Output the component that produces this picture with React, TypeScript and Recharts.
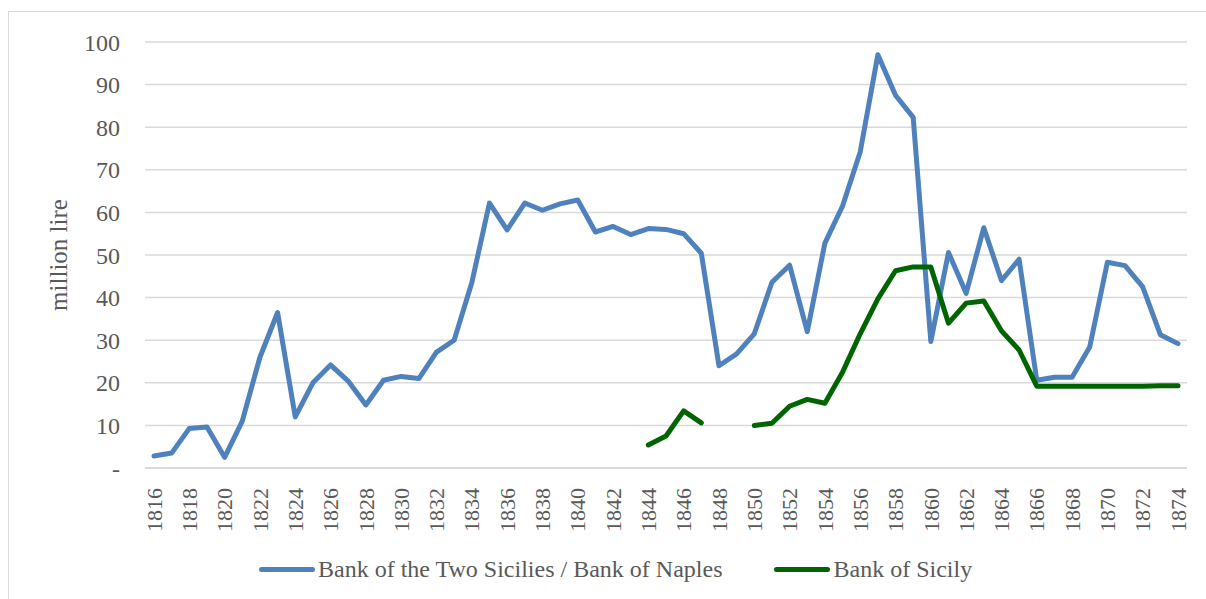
import { LineChart, Line, XAxis, YAxis, CartesianGrid } from "recharts"

const YEARS = Array.from({ length: 59 }, (_, i) => String(1816 + i))

const NAPLES = [
  2.8, 3.5, 9.3, 9.6, 2.5, 11, 26, 36.5, 12, 20,
  24.2, 20.4, 14.8, 20.6, 21.5, 21, 27.2, 30, 43.5, 62.2,
  55.9, 62.2, 60.5, 62, 62.9, 55.4, 56.7, 54.8, 56.2, 56,
  55, 50.4, 24, 26.8, 31.5, 43.6, 47.6, 32, 52.8, 61.5,
  74.2, 97, 87.5, 82.3, 29.7, 50.6, 41, 56.4, 44, 49,
  20.6, 21.3, 21.3, 28.4, 48.3, 47.5, 42.5, 31.3, 29.2,
]

const SICILY: (number | null)[] = [
  null, null, null, null, null, null, null, null, null, null,
  null, null, null, null, null, null, null, null, null, null,
  null, null, null, null, null, null, null, null, 5.4, 7.5,
  13.4, 10.6, null, null, 10, 10.5, 14.5, 16.1, 15.2, 22.5,
  31.5, 39.7, 46.3, 47.2, 47.2, 34, 38.7, 39.2, 32.2, 27.7,
  19.2, 19.2, 19.2, 19.2, 19.2, 19.2, 19.2, 19.3, 19.3,
]

const Y_TICKS = [0, 10, 20, 30, 40, 50, 60, 70, 80, 90, 100]

const NAPLES_NAME = "Bank of the Two Sicilies / Bank of Naples"
const SICILY_NAME = "Bank of Sicily"

const data = YEARS.map((year, i) => ({
  year,
  naples: NAPLES[i],
  sicily: SICILY[i],
}))

const FONT = "'Liberation Serif', 'Times New Roman', serif"
const TEXT = "#595959"
const BLUE = "#4F81BD"
const GREEN = "#006400"

function YearTick({ x, y, payload }: any) {
  return (
    <text
      transform={`rotate(-90, ${x}, ${y + 12})`}
      fill={TEXT}
      fontSize={22}
      fontFamily={FONT}
    >
      <tspan x={x} y={y + 12} textAnchor="end" dy="0.35em">
        {payload.value}
      </tspan>
    </text>
  )
}

function ChartLegend() {
  const items = [
    { name: NAPLES_NAME, color: BLUE, gap: 0 },
    { name: SICILY_NAME, color: GREEN, gap: 52 },
  ]
  return (
    <div
      style={{
        position: "absolute",
        left: 259,
        top: 556,
        display: "flex",
        fontFamily: FONT,
        fontSize: 24,
        color: TEXT,
        whiteSpace: "nowrap",
      }}
    >
      {items.map((it) => (
        <div key={it.name} style={{ display: "flex", alignItems: "center", marginLeft: it.gap }}>
          <div style={{ width: 56, height: 5, borderRadius: 3, background: it.color, marginRight: 3 }} />
          <span>{it.name}</span>
        </div>
      ))}
    </div>
  )
}

export default function App() {
  return (
    <div
      style={{
        position: "absolute",
        left: 0,
        top: 0,
        width: 1206,
        height: 599,
        overflow: "hidden",
        background: "#fff",
      }}
    >
      <div
        style={{
          position: "absolute",
          left: 8,
          top: 11,
          width: 1300,
          height: 700,
          border: "1px solid #D9D9D9",
        }}
      />
      <div style={{ position: "absolute", left: 0, top: 0 }}>
        <LineChart
          width={1206}
          height={599}
          data={data}
          margin={{ top: 42, right: 19, left: 20, bottom: 0 }}
        >
          <CartesianGrid vertical={false} stroke="#D9D9D9" strokeWidth={1.5} />
          <XAxis
            dataKey="year"
            interval={1}
            tickLine={false}
            axisLine={{ stroke: "#D9D9D9", strokeWidth: 1.5 }}
            tick={<YearTick />}
            padding={{ left: 9, right: 9 }}
            height={131}
          />
          <YAxis
            domain={[0, 100]}
            ticks={Y_TICKS}
            tickFormatter={(v: number) => (v === 0 ? "-" : String(v))}
            tickLine={false}
            axisLine={false}
            width={125}
            tick={{ fill: TEXT, fontSize: 24, fontFamily: FONT, dx: -17 }}
            label={{
              value: "million lire",
              angle: -90,
              position: "insideLeft",
              offset: 38,
              style: { fill: TEXT, fontSize: 25, fontFamily: FONT, textAnchor: "middle" },
            }}
          />
          <Line
            type="linear"
            dataKey="naples"
            name={NAPLES_NAME}
            stroke={BLUE}
            strokeWidth={5}
            dot={false}
            strokeLinejoin="round"
            strokeLinecap="round"
            isAnimationActive={false}
          />
          <Line
            type="linear"
            dataKey="sicily"
            name={SICILY_NAME}
            stroke={GREEN}
            strokeWidth={5}
            dot={false}
            strokeLinejoin="round"
            strokeLinecap="round"
            isAnimationActive={false}
          />
        </LineChart>
      </div>
      <ChartLegend />
    </div>
  )
}
